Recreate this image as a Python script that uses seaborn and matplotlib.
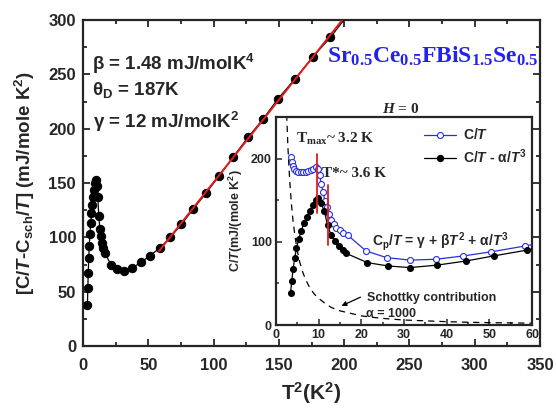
import numpy as np
import matplotlib
matplotlib.use('Agg')
import matplotlib.pyplot as plt
import seaborn as sns
from matplotlib.lines import Line2D
from matplotlib.ticker import MultipleLocator

# ---------------- data ----------------
# C/T - alpha/T^3 (black filled circles), x = T^2 (K^2)
t2_black = [3.4, 3.7, 4.0, 4.4, 4.8, 5.3, 5.9, 6.5, 7.2, 7.9, 8.6, 9.3, 9.9,
            10.5, 11.3, 12.1, 12.9, 13.8, 14.7, 15.6, 16.5, 21.4, 26.2, 31.4,
            37.8, 44.6, 51.0, 58.8, 66.9, 75.4, 84.4, 94.4, 104.0, 115.0,
            126.4, 138.0, 149.0, 162.5, 176.0, 189.5, 203.0]
ct_black = [38, 53, 67, 81, 92, 103, 113, 122, 130, 137, 144, 150, 153,
            147, 137, 120, 108, 101, 95, 90, 86, 75, 71, 69,
            72, 77, 83, 90, 100, 112, 126, 141, 156, 174,
            192, 209, 227, 246, 266, 284, 305]

# C/T (blue open circles, inset)
t2_blue = [3.4, 3.7, 3.9, 4.2, 4.7, 5.2, 5.8, 6.4, 7.0, 7.6, 8.1, 8.7, 9.4,
           9.8, 10.2, 10.6, 11.0, 11.5, 12.0, 12.5, 13.0, 13.5, 14.1, 14.9,
           15.8, 16.8, 21.1, 25.9, 31.4, 37.5, 43.9, 50.5, 58.4, 66.9]
ct_blue = [202, 196, 191, 188, 185, 184, 184, 184, 184, 185, 186, 188, 190,
           188, 180, 170, 160, 149, 142, 133, 126, 121, 117, 114,
           111, 108, 89, 81, 78, 79, 83, 88, 95, 103]

# Schottky contribution (dashed, alpha = 1000)
t2_schottky = [2.5, 2.8, 3.2, 3.6, 4.0, 4.5, 5.0, 5.6, 6.3, 7.0, 8.0, 9.0, 10.0,
               11.5, 13.0, 15.0, 17.5, 20.0, 23.0, 26.0, 30.0, 35.0, 40.0,
               45.0, 50.0, 55.0, 60.0]
c_schottky = [253, 213, 175, 146, 125, 105, 89, 75, 63, 54, 44, 37, 32,
              26, 21, 17, 14, 11, 9, 7.5, 6, 5, 4, 3.3, 2.8, 2.5, 2.2]

# markers for T_max and T*
tmax_t2, tmax_span = 9.5, (135, 205)
tstar_t2, tstar_span = 12.2, (96, 168)

# linear fit range (gamma + beta T^2)
fit_from, fit_to = 58.0, 215.0

main_xticks = [0, 50, 100, 150, 200, 250, 300, 350]
main_yticks = [0, 50, 100, 150, 200, 250, 300]
inset_xticks = [0, 10, 20, 30, 40, 50, 60]
inset_yticks = [0, 100, 200]

# ---------------- style ----------------
sns.set_style('ticks')
plt.rcParams['font.family'] = ['Liberation Sans', 'DejaVu Sans']
plt.rcParams['font.weight'] = 'bold'
plt.rcParams['mathtext.fontset'] = 'custom'
plt.rcParams['mathtext.rm'] = 'Liberation Sans:bold'
plt.rcParams['mathtext.bf'] = 'Liberation Sans:bold'
plt.rcParams['mathtext.it'] = 'Liberation Sans:italic:bold'
plt.rcParams['mathtext.sf'] = 'Liberation Serif:bold'
plt.rcParams['mathtext.cal'] = 'Liberation Serif:italic:bold'
plt.rcParams['axes.linewidth'] = 1.6

BLUE_TXT = '#2222ee'
BLUE = '#2630d8'
RED = '#e31b1b'

W, H = 556, 408
fig = plt.figure(figsize=(W / 100, H / 100), dpi=100)
ax = fig.add_axes([83 / W, 1 - 346 / H, 457 / W, 326 / H])
ax_in = fig.add_axes([276 / W, 1 - 325 / H, 256 / W, 208 / H])

# ---------------- main plot ----------------
sns.lineplot(x=t2_black, y=ct_black, ax=ax, color='black', lw=0.9,
             marker='o', markersize=6, markeredgecolor='black', zorder=3)
t2a = np.array(t2_black)
cta = np.array(ct_black)
sel = (t2a >= fit_from) & (t2a <= 200)
slope, icpt = np.polyfit(t2a[sel], cta[sel], 1)
xfit = np.array([fit_from, fit_to])
sns.lineplot(x=xfit, y=slope * xfit + icpt, ax=ax, color=RED, lw=1.4, zorder=4)

ax.set_xlim(0, 350)
ax.set_ylim(0, 300)
ax.set_xticks(main_xticks)
ax.set_yticks(main_yticks)
ax.xaxis.set_minor_locator(MultipleLocator(25))
ax.yaxis.set_minor_locator(MultipleLocator(25))
ax.tick_params(which='both', direction='in', top=True, right=True, width=1.3)
ax.tick_params(which='major', length=5)
ax.tick_params(which='minor', length=3)
ax.tick_params(axis='x', which='major', pad=9, labelsize=12)
ax.tick_params(axis='y', which='major', pad=5, labelsize=12)
for lab in ax.get_xticklabels() + ax.get_yticklabels():
    lab.set_fontweight('bold')
ax.set_xlabel(r'T$^{2}$(K$^{2}$)', fontsize=15, fontweight='bold')
ax.xaxis.set_label_coords(0.5, -0.105)
ax.set_ylabel(r'[C/$\mathit{T}$-C$_{\rm sch}$/$\mathit{T}$] (mJ/mole K$^{2}$)',
              fontsize=13.5, fontweight='bold')
ax.yaxis.set_label_coords(-0.10, 0.5)

def ftext(x, y, s, **kw):
    fig.text(x / W, 1 - y / H, s, **kw)

ftext(92, 70, r'β = 1.48 mJ/molK$^{4}$', fontsize=13.5, fontweight='bold', va='baseline')
ftext(92, 95, r'θ$_{\rm D}$ = 187K', fontsize=13.5, fontweight='bold', va='baseline')
ftext(93, 128, r'γ = 12 mJ/molK$^{2}$', fontsize=13.5, fontweight='bold', va='baseline')
ftext(327, 63, r'$\mathsf{Sr_{0.5}Ce_{0.5}FBiS_{1.5}Se_{0.5}}$', fontsize=17,
      color=BLUE_TXT, va='baseline')
ftext(401, 113, r'$\mathcal{H}$ = 0', fontsize=11, ha='center', va='baseline',
      family='Liberation Serif', fontweight='bold')

# ---------------- inset ----------------
sns.lineplot(x=t2_schottky, y=c_schottky, ax=ax_in, color='black', lw=0.9,
             dashes=False, linestyle=(0, (5, 4)), zorder=2)
sns.lineplot(x=t2_blue, y=ct_blue, ax=ax_in, color=BLUE, lw=0.9, marker='o',
             markersize=4.3, markerfacecolor='white', markeredgecolor=BLUE,
             markeredgewidth=0.8, zorder=3)
sns.lineplot(x=t2_black, y=ct_black, ax=ax_in, color='black', lw=0.9, marker='o',
             markersize=4.3, markeredgecolor='black', zorder=4)
ax_in.plot([tmax_t2, tmax_t2], tmax_span, color=RED, lw=1.3, zorder=5)
ax_in.plot([tstar_t2, tstar_t2], tstar_span, color=RED, lw=1.3, zorder=5)

ax_in.set_xlim(0, 60)
ax_in.set_ylim(0, 250)
ax_in.set_xticks(inset_xticks)
ax_in.set_yticks(inset_yticks)
ax_in.xaxis.set_minor_locator(MultipleLocator(5))
ax_in.yaxis.set_minor_locator(MultipleLocator(50))
ax_in.tick_params(which='both', direction='in', width=1.1, labelsize=9, pad=3)
ax_in.tick_params(which='major', length=4)
ax_in.tick_params(which='minor', length=2.5)
for lab in ax_in.get_xticklabels() + ax_in.get_yticklabels():
    lab.set_fontweight('bold')
ax_in.set_xlabel('')
ax_in.set_ylabel(r'C/$\mathit{T}$(mJ/(mole K$^{2}$)', fontsize=9, fontweight='bold')
ax_in.yaxis.set_label_coords(-0.12, 0.5)

handles = [
    Line2D([], [], color=BLUE, lw=0.9, marker='o', markersize=4.3,
           markerfacecolor='white', markeredgecolor=BLUE, markeredgewidth=0.8),
    Line2D([], [], color='black', lw=0.9, marker='o', markersize=4.3),
]
labels = [r'C/$\mathit{T}$', r'C/$\mathit{T}$ - α/$\mathit{T}^{3}$']
ax_in.legend(handles, labels, loc='upper left', bbox_to_anchor=(0.58, 0.95),
             frameon=False, fontsize=10, handlelength=2.3, handletextpad=0.45,
             labelspacing=0.35, borderpad=0, borderaxespad=0, markerscale=1)
for t in ax_in.get_legend().get_texts():
    t.set_fontweight('bold')

ftext(296, 143, r'$\mathsf{T_{max}}$~ 3.2 K', fontsize=11, family='Liberation Serif',
      fontweight='bold', va='baseline')
ftext(322, 177, r'T*~ 3.6 K', fontsize=11, family='Liberation Serif',
      fontweight='bold', va='baseline')
ftext(372, 246, r'C$_{\rm p}$/$\mathit{T}$ = γ + β$\mathit{T}^{2}$ + α/$\mathit{T}^{3}$',
      fontsize=10, fontweight='bold', va='baseline')
ftext(367, 301, 'Schottky contribution', fontsize=9, fontweight='bold', va='baseline')
ftext(366, 317, 'α = 1000', fontsize=9, fontweight='bold', va='baseline')
fig.add_artist(matplotlib.patches.FancyArrowPatch(
    (363 / W, 1 - 296 / H), (339 / W, 1 - 307 / H), transform=fig.transFigure,
    arrowstyle='-|>', mutation_scale=7, color='black', lw=0.9))

fig.savefig('out.png', dpi=100)
